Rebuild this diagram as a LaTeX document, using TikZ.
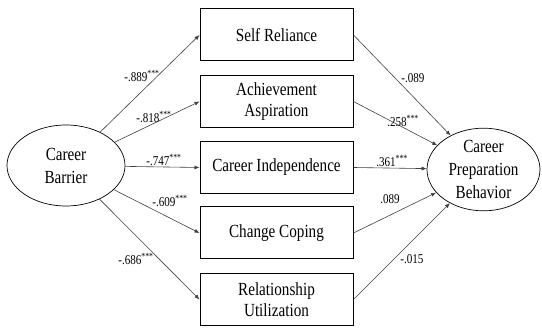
\documentclass[tikz,border=0pt]{standalone}
\usepackage{fontspec}
\setmainfont[FakeStretch=0.82]{Liberation Serif}
\usetikzlibrary{shapes.geometric,arrows.meta}
\begin{document}
\begin{tikzpicture}[x=1pt,y=-1pt,
  box/.style={draw=black,line width=1pt,minimum width=153pt,minimum height=52pt,inner sep=0pt,align=center,font=\fontsize{18.5}{21.5}\selectfont},
  oval/.style={draw=black,line width=0.7pt,ellipse,inner sep=0pt,align=center,font=\fontsize{18.5}{23}\selectfont},
  conn/.style={draw=black!75,line width=0.6pt,-{Latex[length=5pt,width=4pt]}},
  lab/.style={inner sep=0pt,font=\fontsize{13.5}{15}\selectfont}]
\useasboundingbox (0,0) rectangle (542,328);
\node[oval,minimum width=118pt,minimum height=81pt] (cb) at (66,165.5) {Career\\Barrier};
\node[oval,minimum width=113pt,minimum height=75pt] (cp) at (483.5,169.5) {Career\\Preparation\\Behavior};
\node[box] (b1) at (276.5,35) {Self Reliance};
\node[box] (b2) at (276.5,101.5) {Achievement\\Aspiration};
\node[box] (b3) at (276.5,167.5) {Career Independence};
\node[box] (b4) at (276.5,233) {Change Coping};
\node[box] (b5) at (276.5,299.5) {Relationship\\Utilization};
\foreach \b in {b1,b2,b3,b4,b5}{
  \draw[conn] (cb) -- (\b.west);
  \draw[conn] (\b.east) -- (cp);
}
\node[lab] (l1) at (142,76) {-.889\textsuperscript{***}};
\node[lab] (l2) at (154,117) {-.818\textsuperscript{***}};
\node[lab] (l3) at (164,160) {-.747\textsuperscript{***}};
\node[lab] (l4) at (170,201) {-.609\textsuperscript{***}};
\node[lab] (l5) at (136,259) {-.686\textsuperscript{***}};
\node[lab] (r1) at (413,78) {-.089};
\node[lab] (r2) at (403,121) {.258\textsuperscript{***}};
\node[lab] (r3) at (392,161) {.361\textsuperscript{***}};
\node[lab] (r4) at (390,199) {.089};
\node[lab] (r5) at (412,259) {-.015};
\end{tikzpicture}
\end{document}
